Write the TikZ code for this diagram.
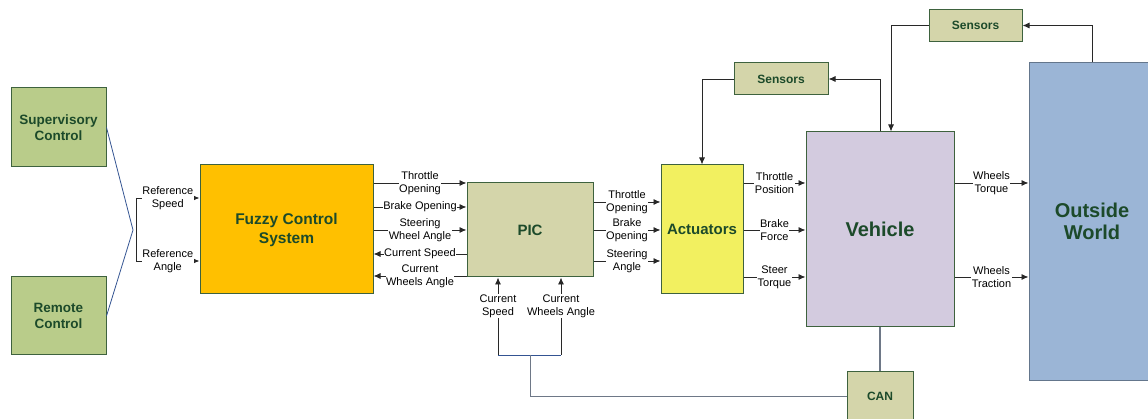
\documentclass[tikz,border=0pt]{standalone}
\usepackage{fontspec}
\setmainfont{Liberation Sans}
\usetikzlibrary{arrows.meta}

\definecolor{edgegreen}{RGB}{62,98,62}
\definecolor{titlegreen}{RGB}{28,74,42}
\definecolor{supfill}{RGB}{185,204,138}
\definecolor{fuzzyfill}{RGB}{255,192,0}
\definecolor{khaki}{RGB}{212,213,170}
\definecolor{actfill}{RGB}{242,240,96}
\definecolor{vehfill}{RGB}{211,203,223}
\definecolor{worldfill}{RGB}{155,181,214}
\definecolor{worldedge}{RGB}{100,118,140}
\definecolor{linegray}{RGB}{40,40,40}
\definecolor{forkblue}{RGB}{52,84,146}
\definecolor{busgray}{RGB}{110,120,135}

\begin{document}
\begin{tikzpicture}[x=1pt, y=-1pt,
  blk/.style={draw=edgegreen, line width=1pt, text=titlegreen, align=center, inner sep=0pt},
  sig/.style={draw=linegray, line width=0.9pt, -{Latex[length=7pt,width=6pt]}},
  wire/.style={draw=linegray, line width=0.9pt},
  lbl/.style={fill=white, inner sep=0.5pt, align=center, font=\fontsize{11}{13}\selectfont}]
\useasboundingbox (0,0) rectangle (1148,419);
\clip (0,0) rectangle (1148,419);

% blocks
\node[blk, fill=supfill, minimum width=95pt, minimum height=79pt, font=\bfseries\fontsize{13.5}{16}\selectfont] (sup) at (58.5,127.5) {Supervisory\\Control};
\node[blk, fill=supfill, minimum width=95pt, minimum height=78pt, font=\bfseries\fontsize{13.5}{16}\selectfont] (rem) at (58.5,316) {Remote\\Control};
\node[blk, fill=fuzzyfill, minimum width=173pt, minimum height=129pt, font=\bfseries\fontsize{15.5}{19}\selectfont] (fuzzy) at (286.5,229.5) {Fuzzy Control\\System};
\node[blk, fill=khaki, minimum width=126pt, minimum height=94pt, font=\bfseries\fontsize{15}{18}\selectfont] (pic) at (530,230) {PIC};
\node[blk, fill=actfill, minimum width=82pt, minimum height=129pt, font=\bfseries\fontsize{15}{18}\selectfont] (act) at (702,229.5) {Actuators};
\node[blk, fill=vehfill, minimum width=148pt, minimum height=195pt, font=\bfseries\fontsize{20}{23}\selectfont] (veh) at (880,229.5) {Vehicle};
\node[blk, fill=khaki, minimum width=94pt, minimum height=32pt, font=\bfseries\fontsize{12}{14}\selectfont] (sensA) at (781,79) {Sensors};
\node[blk, fill=khaki, minimum width=93pt, minimum height=32pt, font=\bfseries\fontsize{12}{14}\selectfont] (sensB) at (975.5,25.5) {Sensors};
\node[blk, fill=khaki, minimum width=66pt, minimum height=50pt, font=\bfseries\fontsize{12}{14}\selectfont] (can) at (880,396) {CAN};
\node[blk, draw=worldedge, fill=worldfill, minimum width=126pt, minimum height=317pt, font=\bfseries\fontsize{20}{22}\selectfont] (world) at (1092,221.5) {Outside\\World};

% reference inputs
\coordinate (fork) at (133,230);
\coordinate (brtop) at (136,198);
\coordinate (brbot) at (136,261);
\draw[forkblue, line width=0.8pt] (sup.east) -- (fork) -- (rem.east);
\draw[wire] (brtop) -- (brbot);
\draw[sig] (brtop) -- node[lbl] {Reference\\Speed} (fuzzy.west |- brtop);
\draw[sig] (brbot) -- node[lbl] {Reference\\Angle} (fuzzy.west |- brbot);

% fuzzy <-> pic
\draw[sig] (fuzzy.east |- 0,183) -- node[lbl] {Throttle\\Opening} (pic.west |- 0,183);
\draw[sig] (fuzzy.east |- 0,207) -- node[lbl] {Brake Opening} (pic.west |- 0,207);
\draw[sig] (fuzzy.east |- 0,230) -- node[lbl] {Steering\\Wheel Angle} (pic.west |- 0,230);
\draw[sig] (pic.west |- 0,254) -- node[lbl] {Current Speed} (fuzzy.east |- 0,254);
\draw[sig] (pic.west |- 0,276) -- node[lbl] {Current\\Wheels Angle} (fuzzy.east |- 0,276);

% pic -> actuators
\draw[sig] (pic.east |- 0,202) -- node[lbl] {Throttle\\Opening} (act.west |- 0,202);
\draw[sig] (pic.east |- 0,230) -- node[lbl] {Brake\\Opening} (act.west |- 0,230);
\draw[sig] (pic.east |- 0,261) -- node[lbl] {Steering\\Angle} (act.west |- 0,261);

% actuators -> vehicle
\draw[sig] (act.east |- 0,183) -- node[lbl] {Throttle\\Position} (veh.west |- 0,183);
\draw[sig] (act.east |- 0,230) -- node[lbl] {Brake\\Force} (veh.west |- 0,230);
\draw[sig] (act.east |- 0,277) -- node[lbl] {Steer\\Torque} (veh.west |- 0,277);

% vehicle -> outside world
\draw[sig] (veh.east |- 0,183) -- node[lbl] {Wheels\\Torque} (world.west |- 0,183);
\draw[sig] (veh.east |- 0,277) -- node[lbl] {Wheels\\Traction} (world.west |- 0,277);

% sensor loops
\draw[sig] (veh.north) |- (sensA.east);
\draw[sig] (sensA.west) -| (act.north);
\draw[sig] (world.north) |- (sensB.east);
\draw[sig] (sensB.west) -| ([xshift=11pt]veh.north);

% feedback from the CAN bus
\node[lbl] (cspd) at (498,306) {Current\\Speed};
\node[lbl] (cwa) at (561,306) {Current\\Wheels Angle};
\draw[sig] (cspd) -- (cspd |- pic.south);
\draw[sig] (cwa) -- (cwa |- pic.south);
\coordinate (busL) at (498,355);
\coordinate (busR) at (561,355);
\coordinate (busM) at (530,355);
\draw[wire] (cspd) -- (busL);
\draw[wire] (cwa) -- (busR);
\draw[forkblue, line width=0.9pt] (busL) -- (busR);
\draw[busgray, line width=1pt] (busM) |- (can.west);
\draw[busgray, line width=1.2pt] (veh.south) -- (can.north);
\end{tikzpicture}
\end{document}
